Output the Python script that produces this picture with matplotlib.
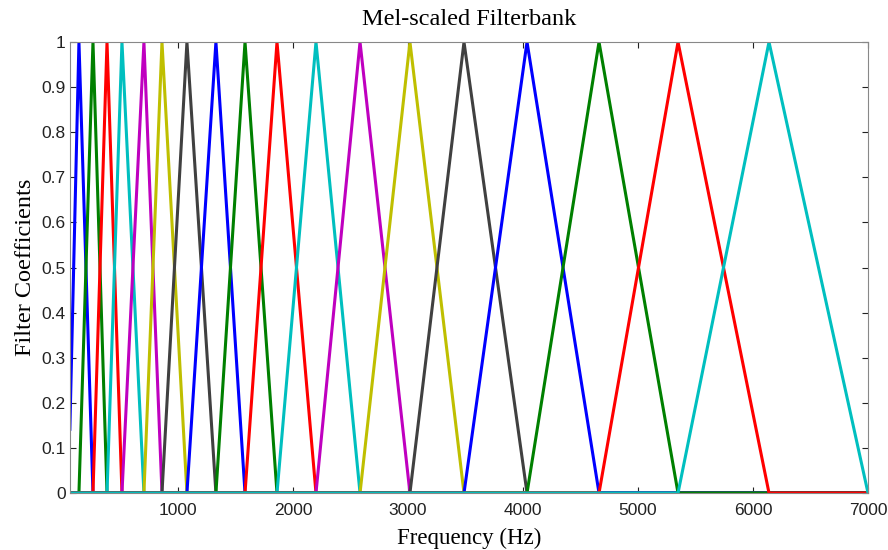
import matplotlib.pyplot as plt
import numpy as np

# filter centre frequencies (Hz), plus outer edges
centres = [139, 261, 383, 513, 704, 861, 1078, 1330, 1583, 1861,
           2200, 2583, 3017, 3487, 4035, 4661, 5348, 6139]
low_edge = 47
high_edge = 7000
colours = ['#0000ff', '#008000', '#ff0000', '#00bfbf', '#bf00bf', '#bfbf00', '#404040']

edges = [low_edge] + centres + [high_edge]
freq = np.union1d(np.linspace(0, 7000, 3501), edges)

fig = plt.figure(figsize=(8.88, 5.5), dpi=100)
ax = fig.add_axes([0.0788, 0.1036, 0.8987, 0.82])

for i in range(len(centres)):
    lo, c, hi = edges[i], edges[i + 1], edges[i + 2]
    h = np.interp(freq, [lo, c, hi], [0, 1, 0], left=0, right=0)
    ax.plot(freq, h, color=colours[i % 7], lw=2.2)

ax.set_xlim(61, 7000)
ax.set_ylim(0, 1)
ax.set_xticks([1000, 2000, 3000, 4000, 5000, 6000, 7000])
ax.set_yticks(np.arange(0, 1.01, 0.1))
ax.set_yticklabels(['0', '0.1', '0.2', '0.3', '0.4', '0.5', '0.6', '0.7', '0.8', '0.9', '1'])
ax.tick_params(direction='in', length=4, top=True, right=True, labelsize=12.5, colors='#222222')
ax.tick_params(axis='x', pad=7)
ax.tick_params(axis='y', pad=3)
for s in ax.spines.values():
    s.set_color('#888888')
for lab in ax.get_xticklabels() + ax.get_yticklabels():
    lab.set_family('Liberation Sans')

ax.set_title('Mel-scaled Filterbank', family='Liberation Serif', fontsize=17.5, pad=12)
ax.set_xlabel('Frequency (Hz)', family='Liberation Serif', fontsize=16.5, labelpad=7)
ax.set_ylabel('Filter Coefficients', family='Liberation Serif', fontsize=17.5, labelpad=4)

fig.savefig('out.png', dpi=100)
